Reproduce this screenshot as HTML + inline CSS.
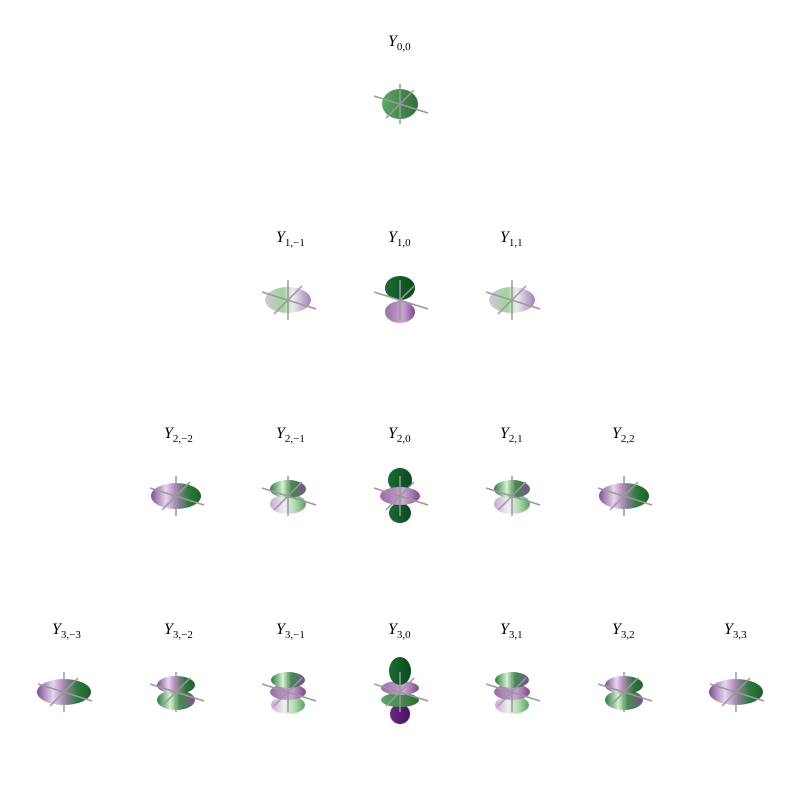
<!DOCTYPE html>
<html><head><meta charset="utf-8"><style>body{margin:0;background:#fff}svg{display:block}</style></head>
<body>
<svg id="c" width="800" height="800" viewBox="0 0 800 800" xmlns="http://www.w3.org/2000/svg">
<defs>
<linearGradient id="gG" x1="0" x2="1"><stop offset="0" stop-color="#5fa866"/><stop offset="1" stop-color="#2f6e3a"/></linearGradient>
<linearGradient id="gDG" x1="0" x2="1"><stop offset="0" stop-color="#1b6b33"/><stop offset="1" stop-color="#0a4a1f"/></linearGradient>
<linearGradient id="gP" x1="0" x2="1"><stop offset="0" stop-color="#9a6aa8"/><stop offset="0.6" stop-color="#c9a6d3"/><stop offset="1" stop-color="#7a4a8c"/></linearGradient>
<linearGradient id="gDP" x1="0" x2="1"><stop offset="0" stop-color="#6a2c80"/><stop offset="1" stop-color="#4a1060"/></linearGradient>
<linearGradient id="gMixA" x1="0" x2="1"><stop offset="0" stop-color="#d9c4df"/><stop offset="0.4" stop-color="#9fd39c"/><stop offset="0.6" stop-color="#f0eaf0"/><stop offset="1" stop-color="#a27fb2"/></linearGradient>
<linearGradient id="gMixB" x1="0" x2="1"><stop offset="0" stop-color="#7d4f91"/><stop offset="0.3" stop-color="#e6d7ea"/><stop offset="0.5" stop-color="#a97fb8"/><stop offset="0.75" stop-color="#2f7a3c"/><stop offset="1" stop-color="#1d5e2c"/></linearGradient>
<linearGradient id="gMixC" x1="0" x2="1"><stop offset="0" stop-color="#2c7a3a"/><stop offset="0.35" stop-color="#d8efd4"/><stop offset="0.6" stop-color="#3e8f48"/><stop offset="1" stop-color="#7d4f91"/></linearGradient>
<linearGradient id="gMixD" x1="0" x2="1"><stop offset="0" stop-color="#c6a9d2"/><stop offset="0.4" stop-color="#f3eef5"/><stop offset="0.7" stop-color="#b0d9ac"/><stop offset="1" stop-color="#5a9f62"/></linearGradient>
</defs>
<g id="cells"></g>
</svg>
<script>
const lVals=[0,1,1,1,2,2,2,2,2,3,3,3,3,3,3,3];
const mVals=[0,-1,0,1,-2,-1,0,1,2,-3,-2,-1,0,1,2,3];
const rowY=[104,300,496,692];
const lobes={
 "0,0":[[0,18,15,"gG"]],
 "1,0":[[-12,15,12,"gDG"],[12,15,11,"gP"]],
 "1,1":[[0,23,13,"gMixA"]],
 "2,0":[[17,11,10,"gDG"],[-16,12,12,"gDG"],[0,20,9,"gP"]],
 "2,1":[[8,18,10,"gMixD"],[-7,18,9,"gMixC"]],
 "2,2":[[0,25,13,"gMixB"]],
 "3,0":[[22,10,10,"gDP"],[8,19,7,"gG"],[-4,19,7,"gP"],[-21,11,14,"gDG"]],
 "3,1":[[13,17,9,"gMixD"],[0,18,8,"gP"],[-12,17,8,"gMixC"]],
 "3,2":[[8,19,10,"gMixC"],[-7,19,9,"gMixB"]],
 "3,3":[[0,27,13,"gMixB"]]
};
const NS="http://www.w3.org/2000/svg";
const g=document.getElementById('cells');
function mk(t,a){const e=document.createElementNS(NS,t);for(const k in a)e.setAttribute(k,a[k]);return e;}
for(let i=0;i<lVals.length;i++){
 const l=lVals[i],m=mVals[i];
 const cx=400+m*112, cy=rowY[l];
 const grp=mk('g',{});
 
 
 const t=mk('text',{x:cx-12,y:cy-58,'font-family':'Liberation Serif, serif','font-size':'16','font-style':'italic'});
 
 
 t.textContent='Y';
 const s=mk('tspan',{dy:'4','font-size':'11','font-style':'normal'});
 s.textContent=l+','+(m<0?'\u2212'+(-m):m);
 t.appendChild(s);grp.appendChild(t);
 const key=l+','+Math.abs(m);
 for(const [dy,rx,ry,f] of lobes[key]){
  const e=mk('ellipse',{cx:cx,cy:cy+dy,rx:rx,ry:ry,fill:'url(#'+f+')'});
  
  
  grp.appendChild(e);
 }
 const ax=[[cx,cy-20,cx,cy+20],[cx-26,cy-8,cx+28,cy+9],[cx-14,cy+14,cx+14,cy-14]];
 for(const a of ax){
  const ln=mk('line',{x1:a[0],y1:a[1],x2:a[2],y2:a[3],stroke:'#999','stroke-width':'1.5'});
  
  
  grp.appendChild(ln);
 }
 g.appendChild(grp);
}
</script>
</body></html>
